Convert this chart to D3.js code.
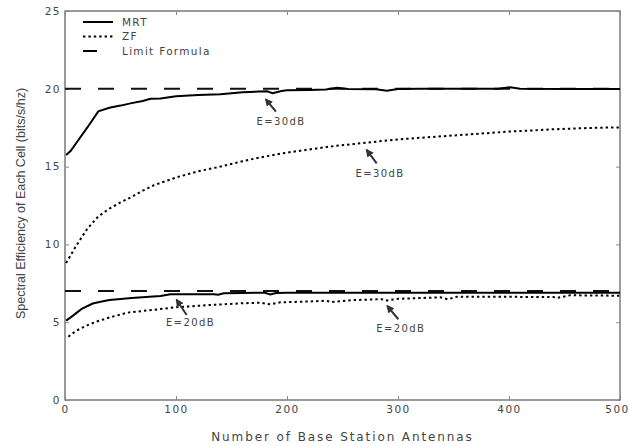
<!DOCTYPE html>
<html>
<head>
<meta charset="utf-8">
<script src="https://cdn.jsdelivr.net/npm/d3@7"></script>
<style>
  body { margin: 0; background: #fff; }
  .lbl { font-family: "DejaVu Sans", Verdana, sans-serif; fill: #444; }
</style>
</head>
<body>
<div id="chart"></div>
<script>
// antennas (x) and spectral efficiency (y) per curve
var mrt30N = [1, 5, 10, 20, 30, 40, 50, 60, 70, 77, 86, 100, 120, 140, 150, 160, 175, 182, 187, 195, 200, 220, 235, 245, 255, 280, 290, 300, 320, 350, 390, 401, 410, 450, 500];
var mrt30 = [15.75, 16.0, 16.5, 17.5, 18.55, 18.78, 18.92, 19.08, 19.22, 19.36, 19.38, 19.52, 19.6, 19.65, 19.72, 19.78, 19.82, 19.84, 19.72, 19.86, 19.9, 19.93, 19.96, 20.06, 19.98, 19.97, 19.88, 19.98, 20.0, 20.0, 20.0, 20.1, 20.0, 19.98, 19.98];

var zf30N = [1, 10, 20, 30, 40, 50, 60, 70, 80, 90, 100, 120, 140, 160, 180, 200, 220, 240, 260, 280, 300, 320, 340, 360, 380, 400, 420, 440, 460, 480, 500];
var zf30 = [8.8, 9.9, 11.0, 11.8, 12.3, 12.7, 13.05, 13.45, 13.8, 14.05, 14.3, 14.7, 15.0, 15.35, 15.65, 15.9, 16.1, 16.3, 16.45, 16.6, 16.75, 16.85, 16.95, 17.05, 17.15, 17.25, 17.32, 17.4, 17.45, 17.5, 17.52];

var mrt20N = [1, 6, 15, 25, 32, 40, 60, 86, 95, 120, 134, 138, 143, 160, 180, 185, 190, 200, 250, 300, 350, 400, 450, 500];
var mrt20 = [5.1, 5.36, 5.85, 6.2, 6.32, 6.43, 6.55, 6.68, 6.79, 6.8, 6.79, 6.76, 6.86, 6.88, 6.89, 6.79, 6.88, 6.9, 6.9, 6.9, 6.9, 6.9, 6.9, 6.9];

var zf20N = [3, 10, 20, 28, 40, 56, 80, 100, 130, 158, 176, 185, 194, 220, 235, 240, 260, 285, 290, 300, 338, 345, 353, 400, 440, 443, 455, 500];
var zf20 = [4.07, 4.45, 4.8, 5.03, 5.3, 5.61, 5.8, 5.96, 6.1, 6.21, 6.25, 6.15, 6.28, 6.33, 6.38, 6.3, 6.42, 6.48, 6.4, 6.5, 6.6, 6.47, 6.64, 6.63, 6.62, 6.56, 6.73, 6.7];

var limitN = [0, 500];
var limitValues = [20, 7];

var xTicks = [0, 100, 200, 300, 400, 500];
var yTicks = [0, 5, 10, 15, 20, 25];

var legendLabels = ["MRT", "ZF", "Limit Formula"];

// annotations in data units: arrow head, arrow tail, label centre
var annoText = ["E=30dB", "E=30dB", "E=20dB", "E=20dB"];
var annoHead = [[181, 19.32], [271.8, 16.07], [100.6, 6.43], [290.4, 6.04]];
var annoTail = [[190, 18.53], [280.8, 15.21], [109.6, 5.46], [300.3, 5.19]];
var annoPos = [[194.6, 17.88], [283.8, 14.57], [113, 4.97], [302.5, 4.61]];

var width = 630, height = 446;
var margin = {top: 11, right: 10, bottom: 46, left: 65};

var svg = d3.select("#chart").append("svg")
    .attr("width", width)
    .attr("height", height);

var x = d3.scaleLinear().domain([0, 500]).range([margin.left, width - margin.right]);
var y = d3.scaleLinear().domain([0, 25]).range([height - margin.bottom, margin.top]);

// frame
svg.append("rect")
    .attr("x", x(0)).attr("y", y(25))
    .attr("width", x(500) - x(0)).attr("height", y(0) - y(25))
    .attr("fill", "none").attr("stroke", "#666").attr("stroke-width", 1.3);

// axes, ticks pointing inwards
svg.append("g")
    .attr("transform", "translate(0," + y(0) + ")")
    .call(d3.axisBottom(x).tickValues(xTicks).tickSize(-4).tickPadding(6));
svg.append("g")
    .attr("transform", "translate(" + x(0) + ",0)")
    .call(d3.axisLeft(y).tickValues(yTicks).tickSize(-4).tickPadding(4));
svg.append("g")
    .attr("transform", "translate(0," + y(25) + ")")
    .call(d3.axisTop(x).tickValues(xTicks).tickSize(-4).tickFormat(""));
svg.append("g")
    .attr("transform", "translate(" + x(500) + ",0)")
    .call(d3.axisRight(y).tickValues(yTicks).tickSize(-4).tickFormat(""));

svg.selectAll(".domain").remove();
svg.selectAll(".tick line").attr("stroke", "#888");
svg.selectAll(".tick text")
    .attr("class", "lbl")
    .style("font-size", "10.5px")
    .style("letter-spacing", "1.5px")
    .attr("fill", "#444");
// keep the last x label inside the page
svg.selectAll(".tick text").filter(function(d) { return d === 500; })
    .attr("dx", "-3");

// axis titles
svg.append("text")
    .attr("class", "lbl")
    .attr("x", (x(0) + x(500)) / 2)
    .attr("y", 441)
    .attr("text-anchor", "middle")
    .style("font-size", "12px")
    .style("letter-spacing", "1.9px")
    .text("Number of Base Station Antennas");

svg.append("text")
    .attr("class", "lbl")
    .attr("transform", "translate(25," + ((y(0) + y(25)) / 2 - 2) + ") rotate(-90)")
    .attr("text-anchor", "middle")
    .style("font-family", "'Liberation Sans', Arial, sans-serif")
    .style("font-size", "12.5px")
    .attr("fill", "#555")
    .text("Spectral Efficiency of Each Cell (bits/s/hz)");

var line = d3.line()
    .x(function(d) { return x(d[0]); })
    .y(function(d) { return y(d[1]); });

function pairs(ns, vs) {
  return ns.map(function(n, i) { return [n, vs[i]]; });
}

// limit formula lines
limitValues.forEach(function(v) {
  svg.append("path")
      .datum(limitN.map(function(n) { return [n, v]; }))
      .attr("d", line)
      .attr("fill", "none")
      .attr("stroke", "#111")
      .attr("stroke-width", 2)
      .attr("stroke-dasharray", "16,17");
});

var curves = [
  {pts: pairs(mrt30N, mrt30), dash: null},
  {pts: pairs(zf30N, zf30), dash: "2.4,3"},
  {pts: pairs(mrt20N, mrt20), dash: null},
  {pts: pairs(zf20N, zf20), dash: "2.4,3"}
];

svg.selectAll(".curve")
    .data(curves)
  .enter().append("path")
    .attr("class", "curve")
    .attr("d", function(d) { return line(d.pts); })
    .attr("fill", "none")
    .attr("stroke", "#000")
    .attr("stroke-width", 2)
    .attr("stroke-dasharray", function(d) { return d.dash; });

// legend
var legendDash = [null, "2.4,3", "14,100"];
var legend = svg.selectAll(".leg")
    .data(legendLabels)
  .enter().append("g")
    .attr("class", "leg")
    .attr("transform", function(d, i) { return "translate(83," + (22 + i * 14.5) + ")"; });
legend.append("line")
    .attr("x1", 0).attr("x2", 30)
    .attr("stroke", "#000")
    .attr("stroke-width", 2)
    .attr("stroke-dasharray", function(d, i) { return legendDash[i]; });
legend.append("text")
    .attr("class", "lbl")
    .attr("x", 39)
    .attr("dy", "0.35em")
    .style("font-size", "10.5px")
    .style("letter-spacing", "1.3px")
    .text(function(d) { return d; });

// annotations
svg.append("defs").append("marker")
    .attr("id", "head")
    .attr("viewBox", "0 0 10 10")
    .attr("refX", 8).attr("refY", 5)
    .attr("markerWidth", 4).attr("markerHeight", 4)
    .attr("orient", "auto")
  .append("path")
    .attr("d", "M0,0 L10,5 L0,10 z")
    .attr("fill", "#333");

annoText.forEach(function(t, i) {
  svg.append("line")
      .attr("x1", x(annoTail[i][0])).attr("y1", y(annoTail[i][1]))
      .attr("x2", x(annoHead[i][0])).attr("y2", y(annoHead[i][1]))
      .attr("stroke", "#333")
      .attr("stroke-width", 2)
      .attr("marker-end", "url(#head)");
  svg.append("text")
      .attr("class", "lbl")
      .attr("x", x(annoPos[i][0]))
      .attr("y", y(annoPos[i][1]))
      .attr("dy", "0.35em")
      .attr("text-anchor", "middle")
      .style("font-size", "10px")
      .style("letter-spacing", "1.4px")
      .attr("fill", "#555")
      .text(t);
});
</script>
</body>
</html>
